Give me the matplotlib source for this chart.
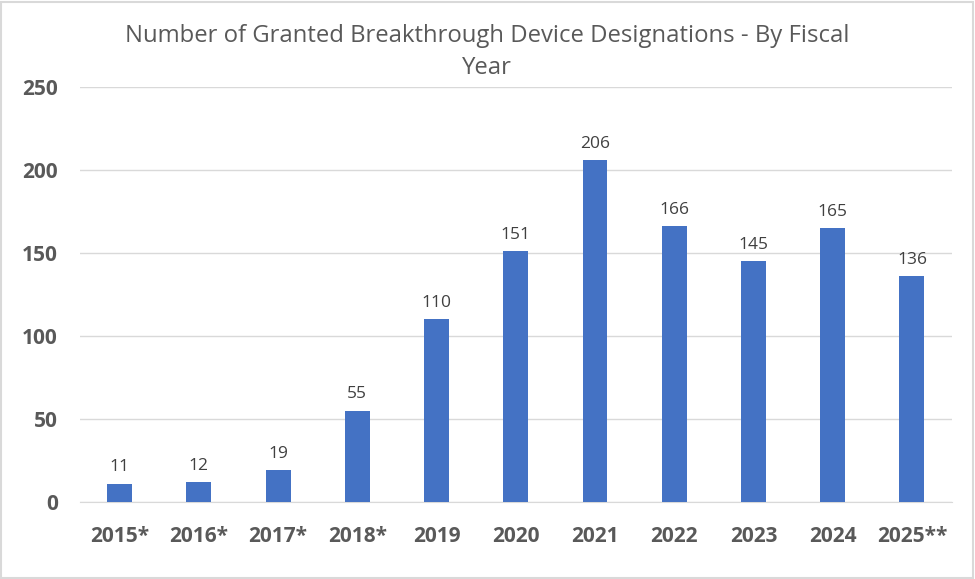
import matplotlib
matplotlib.use("Agg")
import matplotlib.pyplot as plt
from matplotlib.patches import Rectangle

# data
years = ["2015*", "2016*", "2017*", "2018*", "2019", "2020", "2021", "2022", "2023", "2024", "2025**"]
counts = [11, 12, 19, 55, 110, 151, 206, 166, 145, 165, 136]

plt.rcParams['font.family'] = ['Open Sans', 'DejaVu Sans']

fig = plt.figure(figsize=(9.75, 5.79), dpi=100)
ax = fig.add_axes([0.082, 0.133, 0.894, 0.717])

x = range(len(years))
bars = ax.bar(x, counts, width=0.315, color="#4472C4", zorder=3)

for xi, v in zip(x, counts):
    ax.text(xi, v + 5, str(v), ha="center", va="bottom", fontsize=12.5, color="#404040")

ax.set_xlim(-0.5, len(years) - 0.5)
ax.set_ylim(0, 250)
ax.set_yticks([0, 50, 100, 150, 200, 250])
ax.set_xticks(list(x))
ax.set_xticklabels(years)
for lab in ax.get_xticklabels() + ax.get_yticklabels():
    lab.set_fontweight("bold")
    lab.set_fontsize(15)
    lab.set_color("#595959")
ax.tick_params(axis="both", length=0)
ax.tick_params(axis="y", pad=16)
ax.tick_params(axis="x", pad=17)
ax.grid(axis="y", color="#D9D9D9", linewidth=1, zorder=0)
for s in ["top", "right", "left"]:
    ax.spines[s].set_visible(False)
ax.spines["bottom"].set_color("#D9D9D9")

fig.text(0.4995, 0.938, "Number of Granted Breakthrough Device Designations - By Fiscal",
         ha="center", va="center", fontsize=17.2, color="#595959")
fig.text(0.4995, 0.882, "Year", ha="center", va="center", fontsize=17.2, color="#595959")

# outer border
fig.patches.append(Rectangle((0.001, 0.002), 0.997, 0.995, transform=fig.transFigure,
                             fill=False, edgecolor="#D9D9D9", linewidth=1.5))

fig.savefig("out.png", dpi=100)
